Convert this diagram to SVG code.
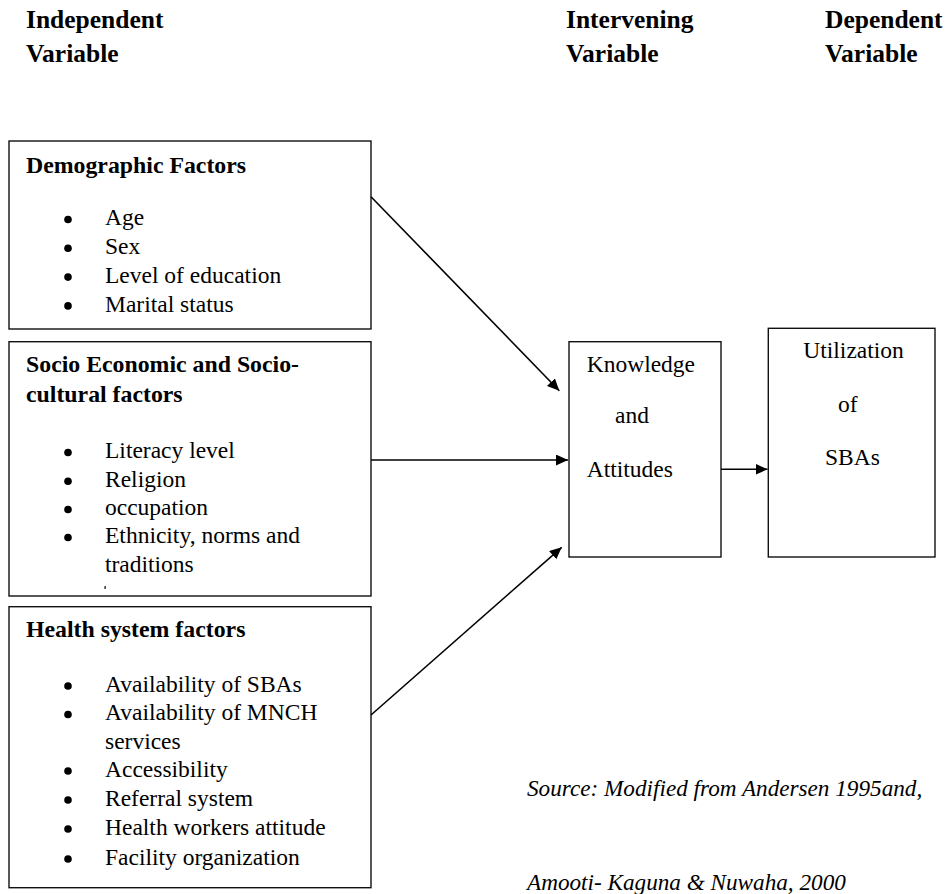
<svg xmlns="http://www.w3.org/2000/svg" width="950" height="894" viewBox="0 0 950 894">
<style>
text{font-family:"Liberation Serif","Times New Roman",serif;fill:#000}
.hdr{font-size:25.5px;font-weight:bold}
.bh{font-size:23.8px;font-weight:bold}
.it{font-size:23.5px}
.src{font-size:23.2px;font-style:italic}
.box{fill:#fff;stroke:#111;stroke-width:1.4}
.bul{fill:#000}
.con{stroke:#000;stroke-width:1.6;fill:none;marker-end:url(#ah)}
</style>
<defs>
<marker id="ah" markerUnits="userSpaceOnUse" markerWidth="13" markerHeight="12" refX="12" refY="5.5" orient="auto">
<path d="M0,0 L12,5.5 L0,11 z" fill="#000"/>
</marker>
</defs>
<rect width="950" height="894" fill="#fff"/>
<g id="headers">
<text class="hdr" x="26" y="28">Independent</text>
<text class="hdr" x="26" y="62">Variable</text>
<text class="hdr" x="566" y="28">Intervening</text>
<text class="hdr" x="566" y="62">Variable</text>
<text class="hdr" x="825" y="28">Dependent</text>
<text class="hdr" x="825" y="62">Variable</text>
</g>
<g id="demographic">
<rect class="box" x="9" y="141" width="362" height="188"/>
<text class="bh" x="26" y="172.5">Demographic Factors</text>
<circle class="bul" cx="68" cy="219.5" r="3.8"/><text class="it" x="105" y="225">Age</text>
<circle class="bul" cx="68" cy="248.3" r="3.8"/><text class="it" x="105" y="254">Sex</text>
<circle class="bul" cx="68" cy="277.1" r="3.8"/><text class="it" x="105" y="283">Level of education</text>
<circle class="bul" cx="68" cy="305.9" r="3.8"/><text class="it" x="105" y="311.7">Marital status</text>
</g>
<g id="socio">
<rect class="box" x="9" y="341.7" width="362" height="254.3"/>
<text class="bh" x="26" y="372">Socio Economic and Socio-</text>
<text class="bh" x="26" y="401.7">cultural factors</text>
<circle class="bul" cx="68" cy="452.5" r="3.8"/><text class="it" x="105" y="458">Literacy level</text>
<circle class="bul" cx="68" cy="481.2" r="3.8"/><text class="it" x="105" y="486.7">Religion</text>
<circle class="bul" cx="68" cy="509.5" r="3.8"/><text class="it" x="105" y="515">occupation</text>
<circle class="bul" cx="68" cy="537.5" r="3.8"/><text class="it" x="105" y="543">Ethnicity, norms and</text>
<text class="it" x="105" y="571.7">traditions</text>
<rect x="104.5" y="586" width="1.2" height="3" fill="#000"/>
</g>
<g id="health">
<rect class="box" x="9" y="606.7" width="362" height="281"/>
<text class="bh" x="26" y="636.7">Health system factors</text>
<circle class="bul" cx="68" cy="686" r="3.8"/><text class="it" x="105" y="691.7">Availability of SBAs</text>
<circle class="bul" cx="68" cy="714.5" r="3.8"/><text class="it" x="105" y="720">Availability of MNCH</text>
<text class="it" x="105" y="748.5">services</text>
<circle class="bul" cx="68" cy="771" r="3.8"/><text class="it" x="105" y="776.7">Accessibility</text>
<circle class="bul" cx="68" cy="800" r="3.8"/><text class="it" x="105" y="806">Referral system</text>
<circle class="bul" cx="68" cy="829" r="3.8"/><text class="it" x="105" y="835">Health workers attitude</text>
<circle class="bul" cx="68" cy="859" r="3.8"/><text class="it" x="105" y="865">Facility organization</text>
</g>
<g id="knowledge">
<rect class="box" x="569" y="341.7" width="152" height="215.3"/>
<text class="it" x="586.7" y="371.7">Knowledge</text>
<text class="it" x="615" y="423">and</text>
<text class="it" x="586.7" y="476.7">Attitudes</text>
</g>
<g id="utilization">
<rect class="box" x="768.3" y="328.3" width="166.7" height="228.7"/>
<text class="it" x="803.3" y="358.3">Utilization</text>
<text class="it" x="838" y="411.7">of</text>
<text class="it" x="825" y="465">SBAs</text>
</g>
<g id="connectors">
<line class="con" x1="371" y1="196.7" x2="559.3" y2="390.7"/>
<line class="con" x1="371" y1="460" x2="568" y2="460"/>
<line class="con" x1="371" y1="715" x2="561.7" y2="547.3"/>
<line class="con" x1="721" y1="469.3" x2="767.5" y2="469.3"/>
</g>
<g id="source">
<text class="src" x="527" y="796">Source: Modified from Andersen 1995and,</text>
<text class="src" x="527" y="890">Amooti- Kaguna &amp; Nuwaha, 2000</text>
</g>
</svg>
